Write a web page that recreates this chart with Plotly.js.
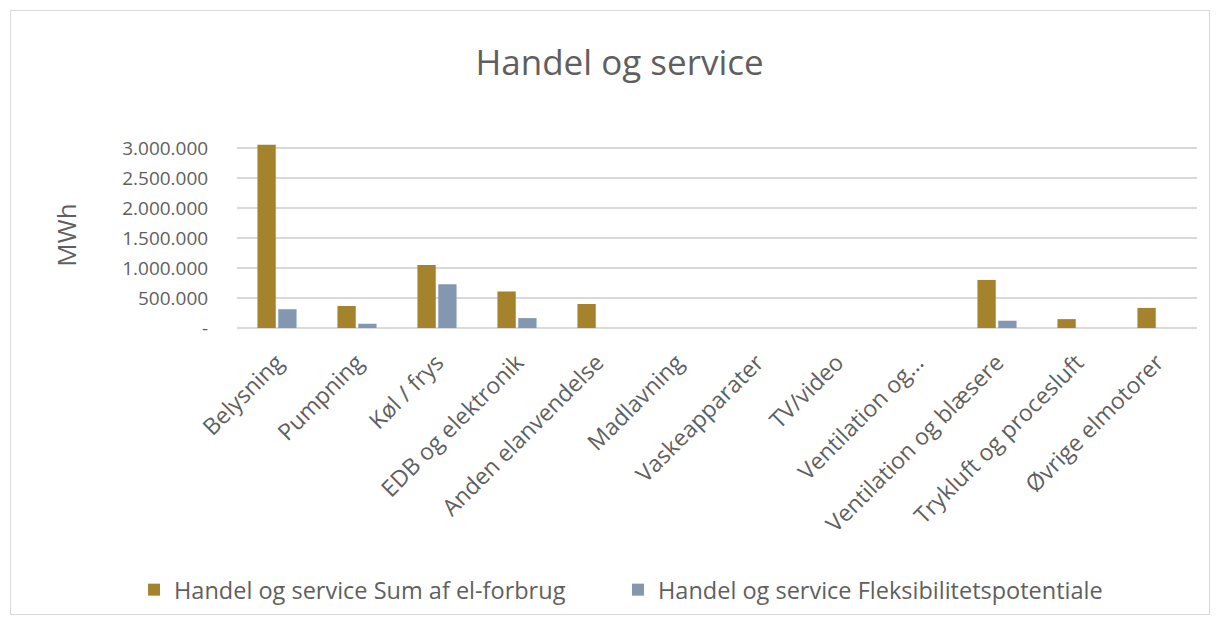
<!DOCTYPE html>
<html>
<head>
<meta charset="utf-8">
<script src="https://cdn.plot.ly/plotly-3.0.1.min.js"></script>
<style>
  html, body { margin: 0; padding: 0; background: #fff; }
  #frame { position: absolute; left: 10px; top: 10px; width: 1200px; height: 605px; border: 1px solid #d9d9d9; box-sizing: border-box; }
  #chart { width: 100%; height: 100%; }
</style>
</head>
<body>
<div id="frame"><div id="chart"></div></div>
<script>
const categories = ["Belysning", "Pumpning", "Køl / frys", "EDB og elektronik", "Anden elanvendelse",
  "Madlavning", "Vaskeapparater", "TV/video", "Ventilation og...", "Ventilation og blæsere",
  "Trykluft og procesluft", "Øvrige elmotorer"];
const sumElforbrug = [3055000, 367000, 1048000, 609000, 400000, 0, 0, 0, 0, 801000, 148000, 335000];
const fleksibilitet = [313000, 71000, 729000, 165000, 0, 0, 0, 0, 0, 121000, 0, 0];
const seriesNames = ["Handel og service Sum af el-forbrug", "Handel og service Fleksibilitetspotentiale"];
const yTickVals = [0, 500000, 1000000, 1500000, 2000000, 2500000, 3000000];
const yTickText = ["-", "500.000", "1.000.000", "1.500.000", "2.000.000", "2.500.000", "3.000.000"];

const font = "Open Sans, sans-serif";
const grey = "#5f5f5f";

const data = [
  { type: "bar", x: categories, y: sumElforbrug, name: seriesNames[0], marker: { color: "#A5832C" }, legend: "legend" },
  { type: "bar", x: categories, y: fleksibilitet, name: seriesNames[1], marker: { color: "#8497B0" }, legend: "legend2" }
];

const legendBase = {
  orientation: "h", xref: "container", yref: "container",
  xanchor: "left", y: 0.04, yanchor: "middle",
  font: { family: font, size: 23.5, color: grey }, itemwidth: 30
};

const layout = {
  width: 1198, height: 603,
  margin: { l: 226, r: 12, t: 131, b: 286 },
  paper_bgcolor: "#fff", plot_bgcolor: "#fff",
  font: { family: font, color: grey },
  title: { text: "Handel og service", font: { family: font, size: 35, color: grey }, x: 0.508, xanchor: "center", y: 0.915, yanchor: "middle" },
  barmode: "group", bargap: 0.48, bargroupgap: 0.12,
  xaxis: {
    tickangle: -45, tickfont: { family: font, size: 23, color: grey },
    showgrid: false, showline: false, zeroline: false,
    ticks: "outside", ticklen: 11, tickcolor: "rgba(0,0,0,0)", automargin: false
  },
  yaxis: {
    range: [0, 3100000], tickvals: yTickVals, ticktext: yTickText,
    tickfont: { family: font, size: 19, color: grey },
    showgrid: true, gridcolor: "#d9d9d9", gridwidth: 2,
    zeroline: true, zerolinecolor: "#d9d9d9", zerolinewidth: 2,
    ticks: "outside", ticklen: 24, tickcolor: "rgba(0,0,0,0)",
    title: { text: "MWh", font: { family: font, size: 26, color: grey }, standoff: 38 },
    automargin: false
  },
  legend: Object.assign({}, legendBase, { x: 0.1027 }),
  legend2: Object.assign({}, legendBase, { x: 0.5067 }),
  showlegend: true
};

Plotly.newPlot("chart", data, layout, { displayModeBar: false, staticPlot: true });
</script>
</body>
</html>
